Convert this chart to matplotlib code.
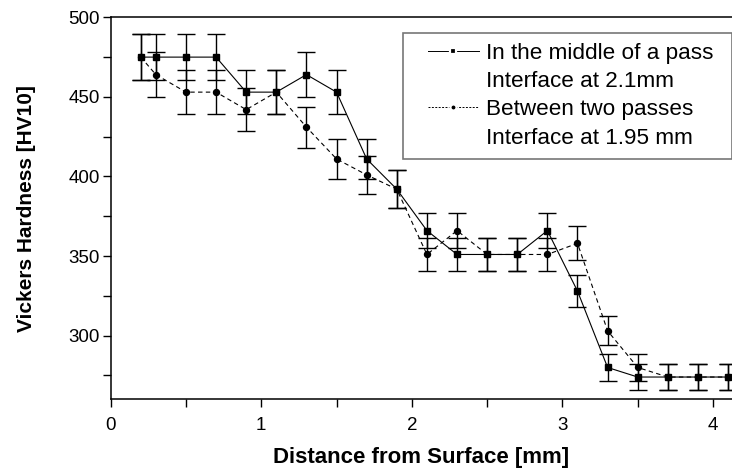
import matplotlib
matplotlib.use("Agg")
import matplotlib.pyplot as plt
from matplotlib.lines import Line2D
from matplotlib.legend_handler import HandlerLine2D
from matplotlib.ticker import MultipleLocator

plt.rcParams['font.family'] = ['Liberation Sans', 'DejaVu Sans']

# distance from surface, mm
dist = [0.2, 0.3, 0.5, 0.7, 0.9, 1.1, 1.3, 1.5, 1.7, 1.9, 2.1,
        2.3, 2.5, 2.7, 2.9, 3.1, 3.3, 3.5, 3.7, 3.9, 4.1]

# in the middle of a pass (squares)
hv_mid = [475, 475, 475, 475, 453, 453, 464, 453, 411, 392, 366,
          351, 351, 351, 366, 328, 280, 274, 274, 274, 274]
err_mid = [14.3, 14.3, 14.3, 14.3, 13.6, 13.6, 13.9, 13.6, 12.3, 11.8, 11.0,
           10.5, 10.5, 10.5, 11.0, 9.8, 8.4, 8.2, 8.2, 8.2, 8.2]

# between two passes (circles)
hv_btw = [475, 464, 453, 453, 442, 453, 431, 411, 401, 392, 351,
          366, 351, 351, 351, 358, 303, 280, 274, 274, 274]
err_btw = [14.3, 13.9, 13.6, 13.6, 13.3, 13.6, 12.9, 12.3, 12.0, 11.8, 10.5,
           11.0, 10.5, 10.5, 10.5, 10.7, 9.1, 8.4, 8.2, 8.2, 8.2]

labels = ["In the middle of a pass", "Interface at 2.1mm",
          "Between two passes", "Interface at 1.95 mm"]

fig = plt.figure(figsize=(7.32, 4.72), dpi=100)
ax = fig.add_axes([0.1512, 0.154, 0.8488, 0.8093])

# squares, solid
ax.errorbar(dist, hv_mid, yerr=err_mid, color='k', lw=0.8, marker='s', ms=3.8,
            elinewidth=1.0, capsize=6.2, capthick=1.0, zorder=2)
# circles, dashed
eb = ax.errorbar(dist, hv_btw, yerr=err_btw, color='k', lw=0.8, marker='o', ms=4.3,
                 elinewidth=1.0, capsize=6.2, capthick=1.0, zorder=3)
eb[0].set_dashes([4, 3])

ax.set_xlim(0, 4.126)
ax.set_ylim(260, 500)
ax.xaxis.set_major_locator(MultipleLocator(1))
ax.xaxis.set_minor_locator(MultipleLocator(0.5))
ax.yaxis.set_major_locator(MultipleLocator(50))
ax.yaxis.set_minor_locator(MultipleLocator(25))

ax.tick_params(which='both', direction='out', length=6, width=1.0, top=False, right=False)
ax.tick_params(axis='x', pad=7, labelsize=13.5)
ax.tick_params(axis='y', pad=2, labelsize=13.5)
for s in ['left', 'bottom', 'top']:
    ax.spines[s].set_linewidth(1.1)
ax.spines['right'].set_visible(False)

ax.set_xlabel('Distance from Surface [mm]', fontsize=16, fontweight='bold', labelpad=9)
ax.set_ylabel('Vickers Hardness [HV10]', fontsize=15, fontweight='bold', labelpad=23)

# legend: two entries, each with a second label line without handle
h_mid = Line2D([], [], color='k', lw=0.7, marker='s', ms=4.2, mec='white', mew=1.6, mfc='k')
h_btw = Line2D([], [], color='k', lw=0.7, marker='o', ms=4.4, mec='white', mew=1.6, mfc='k',
               dashes=[2, 1.5])
blank = Line2D([], [], linestyle='none')
leg = ax.legend([h_mid, blank, h_btw, blank], labels, loc='upper left',
                bbox_to_anchor=(0.471, 0.63, 0.529, 0.33), mode='expand',
                borderaxespad=0, fontsize=16.2,
                handlelength=2.92, handletextpad=0.28, labelspacing=0.32,
                borderpad=0.46, fancybox=False, frameon=True,
                handler_map={Line2D: HandlerLine2D(xpad=0.62)})
leg.get_frame().set_edgecolor('#555555')
leg.get_frame().set_linewidth(1.2)

fig.savefig('out.png', dpi=100)
